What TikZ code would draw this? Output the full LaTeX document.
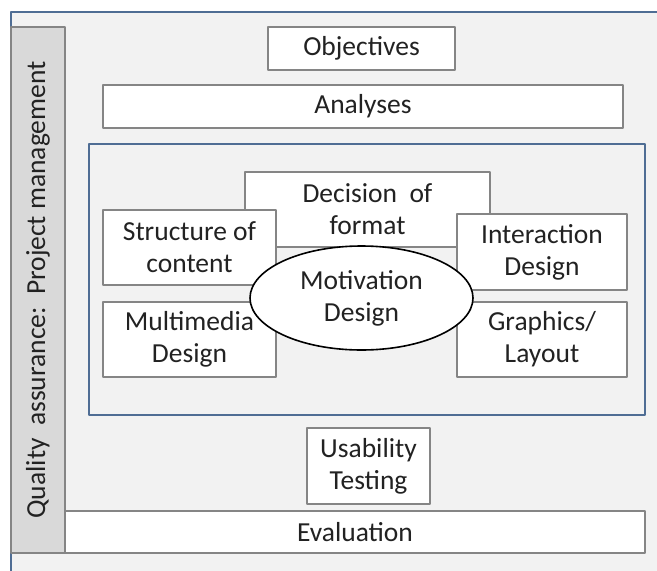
\documentclass[tikz,border=0pt]{standalone}
\usepackage{fontspec}
\setmainfont{Carlito}
\usetikzlibrary{shapes.geometric}
\definecolor{frameblue}{HTML}{4F6D94}
\definecolor{boxgray}{HTML}{858585}
\definecolor{paper}{HTML}{F2F2F2}
\definecolor{sidegray}{HTML}{D9D9D9}
\definecolor{ink}{HTML}{222222}
\begin{document}
\begin{tikzpicture}[x=1pt,y=-1pt,line join=round,
    font=\fontsize{27.5}{32}\selectfont,
    box/.style={draw=boxgray,fill=white,line width=1.2pt,inner sep=0pt,align=center,text=ink}]
	\useasboundingbox (0,0) rectangle (657,571);
	\clip (0,0) rectangle (657,571);
	\fill[white] (0,0) rectangle (657,571);
	% outer frame runs off the page right and below
	\draw[fill=paper,draw=frameblue,line width=2pt] (11,12) rectangle (680,600);
	\node[box,fill=sidegray,rotate=90,minimum width=526pt,minimum height=54pt] (qa) at (38,290) {Quality~~assurance:~~Project management};
	\foreach \n/\x/\y/\w/\h/\t in {obj/361.5/48.5/187/43/Objectives,
		ana/363/106.5/520/43/Analyses,
		usa/368.5/466/123/76/{Usability\\Testing},
		eva/355/532/580/42/Evaluation}
	\node[box,minimum width=\w pt,minimum height=\h pt] (\n) at (\x,\y) {\t};
	% design block
	\draw[frameblue,line width=1.6pt] (89,144) rectangle (645,415);
	\foreach \n/\x/\y/\w/\h/\t in {dec/367.5/209.5/245/75/{Decision~~of\\format},
		str/189.5/247.5/173/75/{Structure of\\content},
		int/542/252/170/76/{Interaction\\Design},
		mul/189.5/339.5/173/75/{Multimedia\\Design},
		gra/542/339.5/170/75/{Graphics/\\Layout}}
	\node[box,minimum width=\w pt,minimum height=\h pt] (\n) at (\x,\y) {\t};
	\node[ellipse,draw=black,fill=white,line width=1.6pt,inner sep=0pt,align=center,text=ink,
		minimum width=223pt,minimum height=104pt] (mot) at (361.5,298) {Motivation\\Design};
\end{tikzpicture}
\end{document}
